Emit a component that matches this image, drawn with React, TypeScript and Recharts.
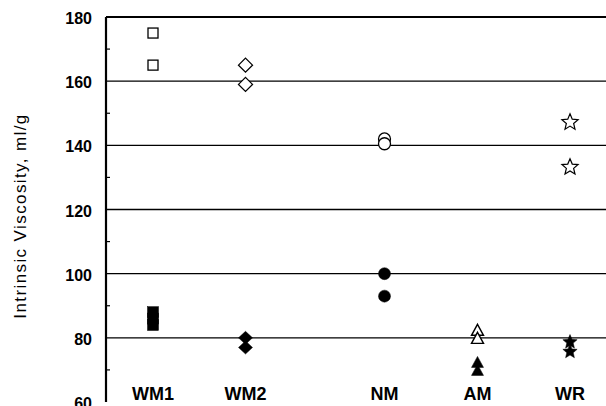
import React from 'react';
import { ScatterChart, Scatter, XAxis, YAxis, ReferenceLine, ReferenceDot, Label } from 'recharts';

// Categories and their horizontal positions (0..100 scale across the plot)
const categories = ['WM1', 'WM2', 'NM', 'AM', 'WR'];
const categoryX = [9.4, 27.9, 55.7, 74.3, 92.8];

// Y axis ticks
const allTicks = [60, 70, 80, 90, 100, 110, 120, 130, 140, 150, 160, 170, 180];
const gridValues = [80, 100, 120, 140, 160];

// Series values (intrinsic viscosity, ml/g)
const wm1Open = [175, 165];
const wm1Filled = [88, 86, 84];
const wm2Open = [165, 159];
const wm2Filled = [80, 77];
const nmOpen = [142, 140.5];
const nmFilled = [100, 93];
const amOpen = [82.5, 80];
const amFilled = [72.5, 70];
const wrOpen = [147.5, 133.5];
const wrFilled = [79, 76];

const toData = (vals: number[], catIndex: number) => vals.map((v) => ({ x: categoryX[catIndex], y: v }));

const FONT = '"Liberation Sans", Arial, sans-serif';

const Square = ({ cx, cy, filled }: any) => {
  const s = filled ? 11 : 10;
  return (
    <rect x={cx - s / 2} y={cy - s / 2} width={s} height={s} fill={filled ? '#000' : '#fff'} stroke="#000" strokeWidth={filled ? 0.5 : 1.3} />
  );
};

const Diamond = ({ cx, cy, filled }: any) => {
  const h = 7;
  const v = filled ? 6.5 : 7;
  return (
    <path d={`M${cx},${cy - v} L${cx + h},${cy} L${cx},${cy + v} L${cx - h},${cy} Z`} fill={filled ? '#000' : '#fff'} stroke="#000" strokeWidth={filled ? 0.5 : 1.3} />
  );
};

const Circle = ({ cx, cy, filled }: any) => (
  <circle cx={cx} cy={cy} r={6} fill={filled ? '#000' : '#fff'} stroke="#000" strokeWidth={filled ? 0.5 : 1.3} />
);

const Triangle = ({ cx, cy, filled }: any) => {
  const w = 6;
  const h = 11;
  return (
    <path d={`M${cx},${cy - h / 2} L${cx + w},${cy + h / 2} L${cx - w},${cy + h / 2} Z`} fill={filled ? '#000' : '#fff'} stroke="#000" strokeWidth={filled ? 0.5 : 1.4} />
  );
};

const Star = ({ cx, cy, filled }: any) => {
  const R = filled ? 7.5 : 8.5;
  const r = R * 0.45;
  const pts: string[] = [];
  for (let i = 0; i < 10; i++) {
    const ang = -Math.PI / 2 + (i * Math.PI) / 5;
    const rad = i % 2 === 0 ? R : r;
    pts.push(`${cx + rad * Math.cos(ang)},${cy + rad * Math.sin(ang) + 1}`);
  }
  return <polygon points={pts.join(' ')} fill={filled ? '#000' : '#fff'} stroke="#000" strokeWidth={filled ? 0.5 : 1.2} strokeLinejoin="miter" />;
};

const YTick = (props: any) => {
  const { x, y, payload } = props;
  const v = payload.value;
  if (v % 20 === 0) {
    return (
      <text x={x - 14} y={y + 1.5} textAnchor="end" dominantBaseline="central" fontFamily={FONT} fontSize={16} fontWeight="bold" fill="#000">
        {v}
      </text>
    );
  }
  return <line x1={x} x2={x + 4} y1={y} y2={y} stroke="#000" strokeWidth={1.2} />;
};

const series = [
  { vals: wm1Open, cat: 0, Shape: Square, filled: false },
  { vals: wm1Filled, cat: 0, Shape: Square, filled: true },
  { vals: wm2Open, cat: 1, Shape: Diamond, filled: false },
  { vals: wm2Filled, cat: 1, Shape: Diamond, filled: true },
  { vals: nmOpen, cat: 2, Shape: Circle, filled: false },
  { vals: nmFilled, cat: 2, Shape: Circle, filled: true },
  { vals: amOpen, cat: 3, Shape: Triangle, filled: false },
  { vals: amFilled, cat: 3, Shape: Triangle, filled: true },
  { vals: wrOpen, cat: 4, Shape: Star, filled: false },
  { vals: wrFilled, cat: 4, Shape: Star, filled: true },
];

export default function App() {
  return (
    <div style={{ position: 'absolute', left: 0, top: 0, background: '#fff' }}>
      <ScatterChart width={606} height={406} margin={{ top: 17, right: 0, bottom: 4, left: 0 }}>
        {gridValues.map((g) => (
          <ReferenceLine key={g} y={g} stroke="#000" strokeWidth={1.3} />
        ))}
        <ReferenceLine y={180} stroke="#000" strokeWidth={2.2} />
        <XAxis
          type="number"
          dataKey="x"
          domain={[0, 100]}
          height={0}
          tick={false}
          tickLine={false}
          axisLine={{ stroke: '#000', strokeWidth: 2.5 }}
          allowDataOverflow
        />
        <YAxis
          type="number"
          dataKey="y"
          domain={[60, 180]}
          ticks={allTicks}
          interval={0}
          width={106}
          tickSize={0}
          tickMargin={0}
          tickLine={false}
          tick={<YTick />}
          axisLine={{ stroke: '#000', strokeWidth: 2.2 }}
          allowDataOverflow
        >
          <Label
            content={() => (
              <text
                x={20}
                y={216}
                transform="rotate(-90 20 216)"
                textAnchor="middle"
                dominantBaseline="central"
                fontFamily={FONT}
                fontSize={17}
                letterSpacing={1.4}
                fill="#000"
              >
                Intrinsic Viscosity, ml/g
              </text>
            )}
          />
        </YAxis>
        {series.map((s, i) => (
          <Scatter
            key={i}
            data={toData(s.vals, s.cat)}
            isAnimationActive={false}
            shape={(p: any) => <s.Shape cx={p.cx} cy={p.cy} filled={s.filled} />}
          />
        ))}
        {categories.map((c, i) => (
          <ReferenceDot
            key={c}
            x={categoryX[i]}
            y={60}
            r={0}
            stroke="none"
            fill="none"
            ifOverflow="visible"
            label={(p: any) => {
              const vb = p.viewBox || {};
              const cx = vb.x + (vb.width || 0) / 2;
              const cy = vb.y + (vb.height || 0) / 2;
              return (
                <text x={cx} y={cy - 2} textAnchor="middle" fontFamily={FONT} fontSize={18} fontWeight="bold" fill="#000">
                  {c}
                </text>
              );
            }}
          />
        ))}
      </ScatterChart>
    </div>
  );
}
